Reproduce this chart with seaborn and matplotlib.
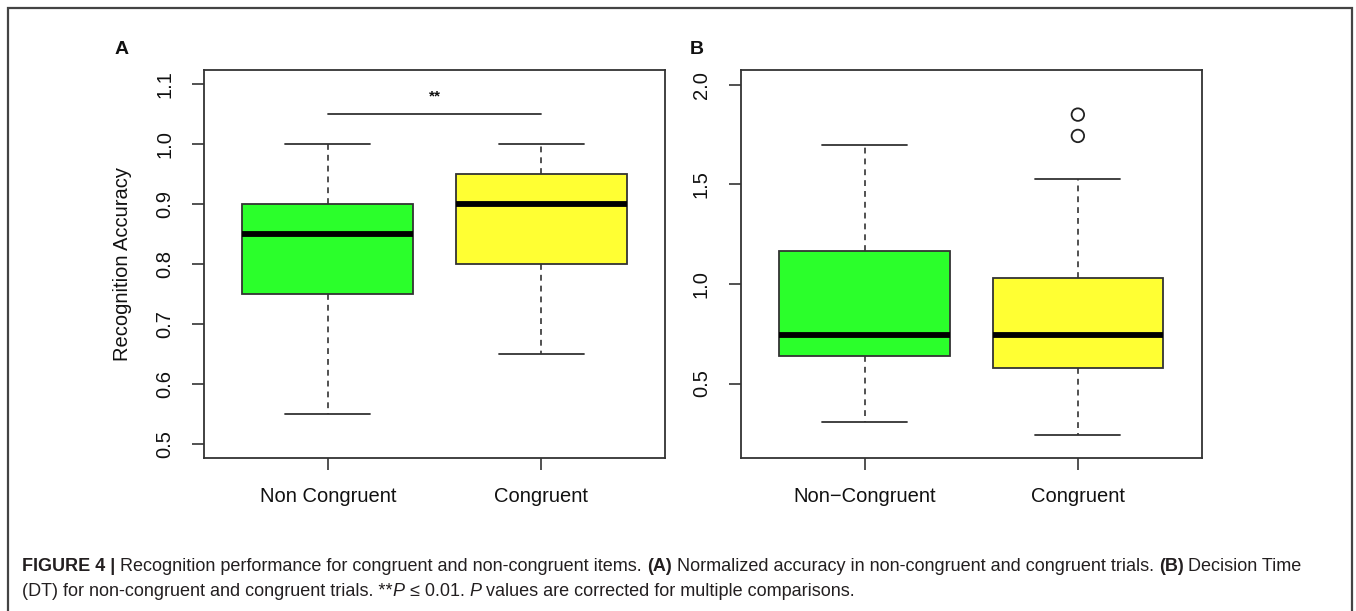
import numpy as np
import pandas as pd
import matplotlib
matplotlib.use("Agg")
import matplotlib.pyplot as plt
import seaborn as sns
from matplotlib.patches import Rectangle

# ---------------- data ----------------
acc_categories = ["Non Congruent", "Congruent"]
acc_whisker_low = [0.55, 0.65]
acc_q1 = [0.75, 0.80]
acc_median = [0.85, 0.90]
acc_q3 = [0.90, 0.95]
acc_whisker_high = [1.00, 1.00]
acc_yticks = [0.5, 0.6, 0.7, 0.8, 0.9, 1.0, 1.1]
acc_ylim = [0.476, 1.124]
acc_sig_y = 1.05
acc_star_y = 1.079
acc_sig_label = "**"
acc_ylabel = "Recognition Accuracy"

dt_categories = ["Non\u2212Congruent", "Congruent"]
dt_whisker_low = [0.308, 0.239]
dt_q1 = [0.636, 0.576]
dt_median = [0.745, 0.745]
dt_q3 = [1.164, 1.032]
dt_whisker_high = [1.695, 1.527]
dt_outlier_category = ["Congruent", "Congruent"]
dt_outliers = [1.743, 1.850]
dt_yticks = [0.5, 1.0, 1.5, 2.0]
dt_ylim = [0.126, 2.074]

panel_labels = ["A", "B"]
box_colors = ["#2BFF2B", "#FFFF33"]

caption_line1 = [
    ("FIGURE 4 |", "bold", "normal", False),
    ("Recognition performance for congruent and non-congruent items.", "normal", "normal", True),
    ("(A)", "bold", "normal", True),
    ("Normalized accuracy in non-congruent and congruent trials.", "normal", "normal", True),
    ("(B)", "bold", "normal", True),
    ("Decision Time", "normal", "normal", True),
]
caption_line2 = [
    ("(DT) for non-congruent and congruent trials. **", "normal", "normal", False),
    ("P", "normal", "italic", False),
    ("\u2264 0.01.", "normal", "normal", True),
    ("P", "normal", "italic", True),
    ("values are corrected for multiple comparisons.", "normal", "normal", True),
]

# ---------------- style ----------------
sns.set_theme(style="ticks")
plt.rcParams["font.family"] = ["Liberation Sans", "DejaVu Sans"]

W, H = 1356, 611
fig = plt.figure(figsize=(W / 100, H / 100), dpi=100)
fig.patch.set_facecolor("white")

EDGE = "#333333"


def summary_frame(cats, lo, q1, med, q3, hi):
    rows = []
    for c, a, b, m, d, e in zip(cats, lo, q1, med, q3, hi):
        for v in (a, b, m, d, e):
            rows.append({"condition": c, "value": v})
    return pd.DataFrame(rows)


def draw_panel(ax, df, cats):
    sns.boxplot(
        data=df, x="condition", y="value", order=cats,
        hue="condition", hue_order=cats, palette=box_colors, saturation=1,
        width=0.8, whis=(0, 100), showfliers=False, legend=False,
        linecolor=EDGE, linewidth=1.3,
        medianprops=dict(color="black", linewidth=4.2, solid_capstyle="butt"),
        whiskerprops=dict(color=EDGE, linewidth=1.2, linestyle=(0, (3.5, 3))),
        capprops=dict(color=EDGE, linewidth=1.3),
        ax=ax,
    )
    ax.set_xlim(-0.58, 1.58)
    ax.set_xlabel("")
    for s in ax.spines.values():
        s.set_visible(True)
        s.set_color(EDGE)
        s.set_linewidth(1.3)
    ax.tick_params(axis="both", length=8.6, width=1.2, color=EDGE,
                   labelsize=14.5, labelcolor="#111111")
    ax.tick_params(axis="y", pad=13)
    ax.tick_params(axis="x", pad=12, labelsize=14.5)


# ---------------- panel A ----------------
axA = fig.add_axes([204 / W, 1 - 458 / H, 461 / W, 388 / H])
dfA = summary_frame(acc_categories, acc_whisker_low, acc_q1, acc_median, acc_q3, acc_whisker_high)
draw_panel(axA, dfA, acc_categories)
axA.set_ylim(*acc_ylim)
axA.set_yticks(acc_yticks)
axA.set_yticklabels([f"{v:.1f}" for v in acc_yticks], rotation=90, va="center")
axA.set_ylabel(acc_ylabel, fontsize=14.5, color="#111111")
axA.yaxis.set_label_coords(-0.156, 0.5)
pos = [acc_categories.index(c) for c in acc_categories]
axA.plot([pos[0], pos[1]], [acc_sig_y, acc_sig_y], color=EDGE, lw=1.3)
axA.text(np.mean(pos), acc_star_y, acc_sig_label, ha="center", va="center",
         fontsize=11, fontweight="bold", color="#111111")

# ---------------- panel B ----------------
axB = fig.add_axes([741 / W, 1 - 458 / H, 460.5 / W, 388 / H])
dfB = summary_frame(dt_categories, dt_whisker_low, dt_q1, dt_median, dt_q3, dt_whisker_high)
draw_panel(axB, dfB, dt_categories)
sns.stripplot(x=dt_outlier_category, y=dt_outliers, order=dt_categories,
              jitter=False, size=9, color="white", linewidth=1.3,
              edgecolor="#222222", ax=axB)
pts = axB.collections[-1]
pts.set_facecolor("none")
pts.set_edgecolor("#222222")
axB.set_ylim(*dt_ylim)
axB.set_yticks(dt_yticks)
axB.set_yticklabels([f"{v:.1f}" for v in dt_yticks], rotation=90, va="center")
axB.set_ylabel("")
axB.set_xlim(-0.58, 1.58)

# panel letters
fig.text(122 / W, 1 - 49 / H, panel_labels[0], fontsize=14, fontweight="bold",
         ha="center", va="center", color="#111111")
fig.text(697 / W, 1 - 49 / H, panel_labels[1], fontsize=14, fontweight="bold",
         ha="center", va="center", color="#111111")

# outer frame (bottom edge lies below the image)
fig.add_artist(Rectangle((8 / W, -0.1), (1352 - 8) / W, 1 - 8 / H + 0.1,
                         transform=fig.transFigure, fill=False,
                         edgecolor="#444444", linewidth=1.6, clip_on=False))

# ---------------- caption ----------------
cap_fs = 13
cap_color = "#231F20"
renderer = fig.canvas.get_renderer()


def text_width(s, weight="normal", style="normal"):
    t = fig.text(0, 0, s, fontsize=cap_fs, fontweight=weight, fontstyle=style)
    w = t.get_window_extent(renderer).width
    t.remove()
    return w


space_w = text_width("a a") - text_width("aa")


def draw_line(segments, x0, y_base):
    x = x0
    for txt, weight, style, sp in segments:
        if sp:
            x += space_w
        t = fig.text(x / W, 1 - y_base / H, txt, fontsize=cap_fs, fontweight=weight,
                     fontstyle=style, ha="left", va="baseline", color=cap_color)
        x += t.get_window_extent(renderer).width


draw_line(caption_line1, 22, 571)
draw_line(caption_line2, 22, 596)

fig.savefig("out.png", dpi=100, facecolor="white")
